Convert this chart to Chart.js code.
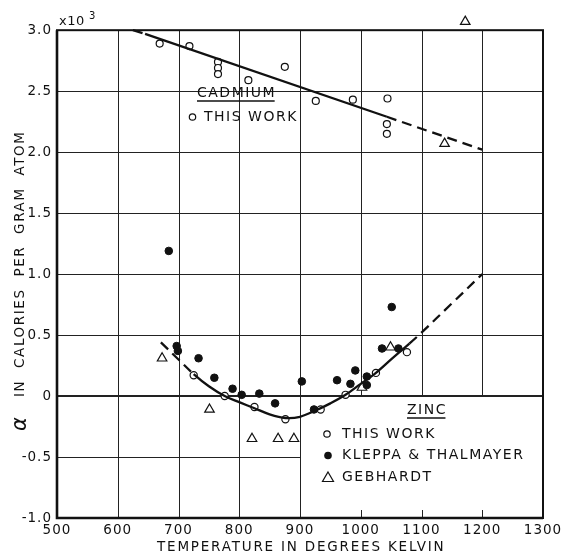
<!DOCTYPE html>
<html>
<head>
<meta charset="utf-8">
<script src="https://cdn.jsdelivr.net/npm/chart.js@4"></script>
<style>
  html, body { margin: 0; padding: 0; background: #fff; }
  #wrap { width: 570px; height: 557px; }
</style>
</head>
<body>
<div id="wrap"><canvas id="chart" width="570" height="557"></canvas></div>
<script>
// axis ticks
const xTicks = [500, 600, 700, 800, 900, 1000, 1100, 1200, 1300];
const yTicks = [-1.0, -0.5, 0, 0.5, 1.0, 1.5, 2.0, 2.5, 3.0];

// cadmium, this work (x10^3 cal/g-atom)
const cdT = [669, 718, 765, 765, 765, 815, 875, 926, 987, 1044, 1043, 1043];
const cdA = [2.89, 2.87, 2.74, 2.69, 2.64, 2.59, 2.70, 2.42, 2.43, 2.44, 2.23, 2.15];
// cadmium, Gebhardt
const cdGebT = [1172, 1138];
const cdGebA = [3.07, 2.07];
// cadmium fitted line
const cdFitT = [625, 645, 1043, 1200];
const cdFitA = [3.0, 2.97, 2.29, 2.02];

// zinc, this work
const znT = [725, 776, 825, 876, 934, 975, 1025, 1076];
const znA = [0.17, 0.0, -0.09, -0.19, -0.11, 0.01, 0.19, 0.36];
// zinc, Kleppa & Thalmayer
const znKlT = [684, 697, 699, 733, 759, 789, 804, 833, 859, 903, 923, 961, 983, 991, 1010, 1010, 1035, 1051, 1062];
const znKlA = [1.19, 0.41, 0.37, 0.31, 0.15, 0.06, 0.01, 0.02, -0.06, 0.12, -0.11, 0.13, 0.10, 0.21, 0.09, 0.16, 0.39, 0.73, 0.39];
// zinc, Gebhardt
const znGebT = [673, 751, 821, 864, 890, 1002, 1049];
const znGebA = [0.31, -0.11, -0.35, -0.35, -0.35, 0.07, 0.40];
// zinc fitted curve
const znFitT = [671, 700, 725, 750, 776, 800, 825, 850, 876, 900, 925, 950, 975, 1000, 1025, 1050, 1080, 1100, 1150, 1200];
const znFitA = [0.44, 0.30, 0.18, 0.08, 0.0, -0.05, -0.10, -0.15, -0.18, -0.17, -0.12, -0.06, 0.01, 0.10, 0.19, 0.30, 0.43, 0.52, 0.76, 1.0];

const FONT = "'DejaVu Sans', sans-serif";
const pts = (xs, ys) => xs.map((x, i) => ({ x: x, y: ys[i] }));

// grid, frame, legends and axis titles
const paperPlugin = {
  id: "paper",
  beforeDraw(chart) {
    chart.ctx.letterSpacing = "1px";
  },
  beforeDatasetsDraw(chart) {
    const { ctx } = chart;
    const xs = chart.scales.x, ys = chart.scales.y;
    const X = v => xs.getPixelForValue(v), Y = v => ys.getPixelForValue(v);
    const top = Y(3.0), bot = Y(-1.0), left = X(500), right = X(1300);
    ctx.save();
    ctx.strokeStyle = "#222";
    ctx.lineWidth = 1;
    ctx.beginPath();
    xTicks.forEach(t => {
      if (t <= 500 || t >= 1300) return;
      const px = Math.round(X(t)) + 0.5;
      if (t <= 900) {
        ctx.moveTo(px, top); ctx.lineTo(px, bot);
      } else {
        ctx.moveTo(px, top); ctx.lineTo(px, Y(0));
        ctx.moveTo(px, bot); ctx.lineTo(px, bot - 8);
      }
    });
    yTicks.forEach(t => {
      if (t <= -1.0 || t >= 3.0 || t === 0) return;
      const py = Math.round(Y(t)) + 0.5;
      ctx.moveTo(left, py);
      ctx.lineTo(t < 0 ? X(900) : right, py);
    });
    ctx.stroke();
    // zero line
    ctx.lineWidth = 2;
    ctx.beginPath();
    ctx.moveTo(left, Y(0)); ctx.lineTo(right, Y(0));
    ctx.stroke();
    // frame
    ctx.strokeStyle = "#111";
    ctx.lineWidth = 2;
    ctx.strokeRect(left, top, right - left, bot - top);
    ctx.lineWidth = 2.6;
    ctx.beginPath();
    ctx.moveTo(left, top); ctx.lineTo(left, bot); ctx.lineTo(right, bot);
    ctx.stroke();
    ctx.restore();
  },
  afterDraw(chart) {
    const { ctx } = chart;
    const xs = chart.scales.x;
    const X = v => xs.getPixelForValue(v);
    ctx.save();
    ctx.fillStyle = "#111";
    ctx.strokeStyle = "#111";
    ctx.textBaseline = "middle";

    // x10^3
    ctx.letterSpacing = "0.5px";
    ctx.font = "13px " + FONT;
    ctx.textAlign = "left";
    ctx.fillText("x10", 59, 22);
    ctx.font = "10px " + FONT;
    ctx.fillText("3", 89, 16);

    const underline = (txt, x, y) => {
      ctx.textAlign = "left";
      ctx.fillText(txt, x, y);
      const w = ctx.measureText(txt).width - 1.5;
      ctx.lineWidth = 1.6;
      ctx.beginPath();
      ctx.moveTo(x, y + 8); ctx.lineTo(x + w, y + 8);
      ctx.stroke();
    };
    const openCircle = (x, y, r) => {
      ctx.lineWidth = 1.2;
      ctx.beginPath(); ctx.arc(x, y, r, 0, Math.PI * 2);
      ctx.fillStyle = "#fff"; ctx.fill(); ctx.stroke();
      ctx.fillStyle = "#111";
    };

    ctx.font = "14px " + FONT;
    ctx.letterSpacing = "1.5px";
    // cadmium legend
    underline("CADMIUM", 197, 93);
    openCircle(192.5, 117, 3.2);
    ctx.fillText("THIS WORK", 204, 117.5);

    // zinc legend
    underline("ZINC", 407, 410);
    openCircle(327, 434, 3.2);
    ctx.fillText("THIS WORK", 342, 434.5);
    ctx.beginPath(); ctx.arc(328, 455.5, 3.8, 0, Math.PI * 2); ctx.fill();
    ctx.fillText("KLEPPA & THALMAYER", 342, 455.5);
    ctx.lineWidth = 1.2;
    ctx.beginPath();
    ctx.moveTo(328, 472); ctx.lineTo(333.5, 481.5); ctx.lineTo(322.5, 481.5); ctx.closePath();
    ctx.stroke();
    ctx.fillText("GEBHARDT", 342, 477);

    // x title
    ctx.font = "13.5px " + FONT;
    ctx.textAlign = "left";
    ctx.letterSpacing = "1.8px";
    ctx.fillText("TEMPERATURE IN DEGREES KELVIN", 157, 547);

    // y title
    ctx.save();
    ctx.translate(20, 0);
    ctx.rotate(-Math.PI / 2);
    ctx.textAlign = "left";
    ctx.font = "italic 21px " + FONT;
    ctx.letterSpacing = "0px";
    ctx.fillText("α", -431, 1);
    ctx.font = "13.5px " + FONT;
    ctx.letterSpacing = "1.6px";
    ctx.fillText("IN  CALORIES  PER  GRAM  ATOM", -397, 0);
    ctx.restore();
    ctx.restore();
  }
};

const ctx = document.getElementById("chart").getContext("2d");
new Chart(ctx, {
  type: "scatter",
  data: {
    datasets: [
      {
        label: "Cadmium fit",
        data: pts(cdFitT, cdFitA),
        showLine: true,
        pointRadius: 0,
        borderColor: "#111",
        borderWidth: 2.3,
        segment: {
          borderDash: c => (c.p0.parsed.x < 640 || c.p0.parsed.x >= 1040) ? [10, 6] : undefined
        }
      },
      {
        label: "Zinc fit",
        data: pts(znFitT, znFitA),
        showLine: true,
        pointRadius: 0,
        tension: 0.35,
        borderColor: "#111",
        borderWidth: 2.3,
        segment: {
          borderDash: c => (c.p0.parsed.x < 710 || c.p0.parsed.x >= 1080) ? [10, 6] : undefined
        }
      },
      {
        label: "Cadmium this work",
        data: pts(cdT, cdA),
        pointStyle: "circle",
        pointRadius: 3.5,
        borderWidth: 1.2,
        borderColor: "#111",
        backgroundColor: "#fff"
      },
      {
        label: "Cadmium Gebhardt",
        data: pts(cdGebT, cdGebA),
        pointStyle: "triangle",
        pointRadius: 5.5,
        borderWidth: 1.2,
        borderColor: "#111",
        backgroundColor: "#fff",
        clip: false
      },
      {
        label: "Zinc Kleppa & Thalmayer",
        data: pts(znKlT, znKlA),
        pointStyle: "circle",
        pointRadius: 3.8,
        borderWidth: 1,
        borderColor: "#111",
        backgroundColor: "#111"
      },
      {
        label: "Zinc Gebhardt",
        data: pts(znGebT, znGebA),
        pointStyle: "triangle",
        pointRadius: 5.5,
        borderWidth: 1.2,
        borderColor: "#111",
        backgroundColor: "#fff"
      },
      {
        label: "Zinc this work",
        data: pts(znT, znA),
        pointStyle: "circle",
        pointRadius: 3.6,
        borderWidth: 1.2,
        borderColor: "#111",
        backgroundColor: "#fff"
      }
    ]
  },
  options: {
    responsive: false,
    animation: false,
    layout: { padding: { top: 18, right: 27, left: 0, bottom: 0 } },
    plugins: {
      legend: { display: false },
      tooltip: { enabled: false }
    },
    scales: {
      x: {
        type: "linear",
        min: 500,
        max: 1300,
        afterBuildTicks: axis => { axis.ticks = xTicks.map(v => ({ value: v })); },
        afterFit: axis => { axis.height = 39; },
        grid: { display: false, drawTicks: false },
        border: { display: false },
        ticks: {
          color: "#111",
          padding: 4,
          maxRotation: 0,
          font: { family: FONT, size: 13.5 },
          callback: v => String(v)
        }
      },
      y: {
        type: "linear",
        min: -1.0,
        max: 3.1,
        afterBuildTicks: axis => { axis.ticks = yTicks.map(v => ({ value: v })); },
        afterFit: axis => { axis.width = 57; },
        grid: { display: false, drawTicks: false },
        border: { display: false },
        ticks: {
          color: "#111",
          padding: 5,
          font: { family: FONT, size: 13.5 },
          callback: v => (v === 0 ? "0" : v.toFixed(1))
        }
      }
    }
  },
  plugins: [paperPlugin]
});
</script>
</body>
</html>
